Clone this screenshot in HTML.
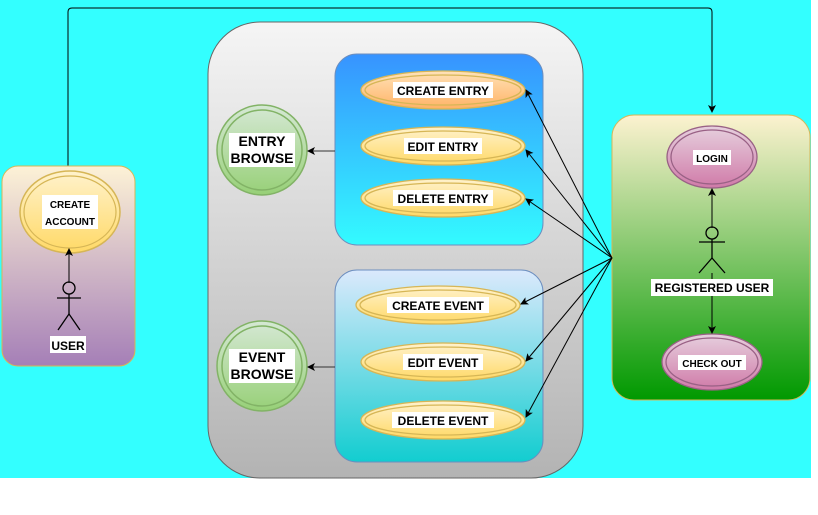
<!DOCTYPE html>
<html><head><meta charset="utf-8"><style>
body{margin:0;background:#fff;}
svg{display:block;}
text{font-family:"Liberation Sans",sans-serif;font-weight:bold;fill:#000;}
</style></head><body>
<svg width="818" height="515" viewBox="0 0 818 515" xmlns="http://www.w3.org/2000/svg">
<defs>
<linearGradient id="gU" x1="0" y1="0" x2="0" y2="1"><stop offset="0" stop-color="#fdf2d6"/><stop offset="1" stop-color="#a57fb7"/></linearGradient>
<linearGradient id="gG" x1="0" y1="0" x2="0" y2="1"><stop offset="0" stop-color="#f5f5f5"/><stop offset="1" stop-color="#b3b3b3"/></linearGradient>
<linearGradient id="gB" x1="0" y1="0" x2="0" y2="1"><stop offset="0" stop-color="#3793ff"/><stop offset="1" stop-color="#33fbff"/></linearGradient>
<linearGradient id="gC" x1="0" y1="0" x2="0" y2="1"><stop offset="0" stop-color="#dbe9fc"/><stop offset="1" stop-color="#12cdd0"/></linearGradient>
<linearGradient id="gR" x1="0" y1="0" x2="0" y2="1"><stop offset="0" stop-color="#fdf2d0"/><stop offset="1" stop-color="#009900"/></linearGradient>
<linearGradient id="gY" x1="0" y1="0" x2="0" y2="1"><stop offset="0" stop-color="#fff2cc"/><stop offset="1" stop-color="#ffd966"/></linearGradient>
<linearGradient id="gO" x1="0" y1="0" x2="0" y2="1"><stop offset="0" stop-color="#ffe2b8"/><stop offset="1" stop-color="#ffb366"/></linearGradient>
<linearGradient id="gE" x1="0" y1="0" x2="0" y2="1"><stop offset="0" stop-color="#d5e8d4"/><stop offset="1" stop-color="#97d077"/></linearGradient>
<linearGradient id="gP" x1="0" y1="0" x2="0" y2="1"><stop offset="0" stop-color="#e6d0de"/><stop offset="1" stop-color="#d07aa8"/></linearGradient>
<marker id="a" markerWidth="8" markerHeight="8" refX="7" refY="4" orient="auto" markerUnits="userSpaceOnUse"><path d="M0,0 L8,4 L0,8 L2,4 Z" fill="#000"/></marker>
</defs>
<rect x="0" y="0" width="811" height="478" fill="#33ffff"/>
<path d="M68,166 V12 Q68,8 72,8 H708 Q712,8 712,12 V112" fill="none" stroke="#000" stroke-width="1" marker-end="url(#a)"/>
<!-- user box -->
<rect x="2" y="166" width="133" height="200" rx="16" fill="url(#gU)" stroke="#d6b656"/>
<ellipse cx="70" cy="212" rx="50" ry="41" fill="url(#gY)" stroke="#d6b656" stroke-width="1.5"/>
<ellipse cx="70" cy="212" rx="46" ry="36" fill="none" stroke="#d6b656" stroke-width="1.2"/>
<rect x="42" y="195" width="56" height="34" fill="#fff"/>
<text x="70" y="208" font-size="10" text-anchor="middle">CREATE</text>
<text x="70" y="225" font-size="10" text-anchor="middle">ACCOUNT</text>
<line x1="69" y1="283" x2="69" y2="249" stroke="#000" marker-end="url(#a)"/>
<g stroke="#000" stroke-width="1.3" fill="none"><circle cx="69" cy="288" r="6"/><line x1="69" y1="294" x2="69" y2="314"/><line x1="57" y1="298" x2="81" y2="298"/><line x1="69" y1="314" x2="58" y2="330"/><line x1="69" y1="314" x2="80" y2="330"/></g>
<rect x="50" y="336" width="36" height="17" fill="#fff"/>
<text x="68" y="350" font-size="12" text-anchor="middle">USER</text>
<!-- gray box -->
<rect x="208" y="22" width="375" height="456" rx="52" fill="url(#gG)" stroke="#666"/>
<rect x="335" y="54" width="208" height="191" rx="22" fill="url(#gB)" stroke="#6c8ebf"/>
<rect x="335" y="270" width="208" height="192" rx="22" fill="url(#gC)" stroke="#6c8ebf"/>
<g stroke="#d6b656" stroke-width="1.3">
<ellipse cx="443" cy="90" rx="82" ry="19" fill="url(#gO)"/><ellipse cx="443" cy="90" rx="78" ry="15" fill="none"/>
<ellipse cx="443" cy="146" rx="82" ry="19" fill="url(#gY)"/><ellipse cx="443" cy="146" rx="78" ry="15" fill="none"/>
<ellipse cx="443" cy="198" rx="82" ry="19" fill="url(#gY)"/><ellipse cx="443" cy="198" rx="78" ry="15" fill="none"/>
<ellipse cx="438" cy="305" rx="82" ry="19" fill="url(#gY)"/><ellipse cx="438" cy="305" rx="78" ry="15" fill="none"/>
<ellipse cx="443" cy="362" rx="82" ry="19" fill="url(#gY)"/><ellipse cx="443" cy="362" rx="78" ry="15" fill="none"/>
<ellipse cx="443" cy="420" rx="82" ry="19" fill="url(#gY)"/><ellipse cx="443" cy="420" rx="78" ry="15" fill="none"/>
</g>
<g font-size="12" text-anchor="middle">
<rect x="393" y="82" width="100" height="16" fill="#fff"/><text x="443" y="95">CREATE ENTRY</text>
<rect x="404" y="138" width="78" height="16" fill="#fff"/><text x="443" y="151">EDIT ENTRY</text>
<rect x="393" y="190" width="100" height="16" fill="#fff"/><text x="443" y="203">DELETE ENTRY</text>
<rect x="387" y="297" width="102" height="16" fill="#fff"/><text x="438" y="310">CREATE EVENT</text>
<rect x="403" y="354" width="80" height="16" fill="#fff"/><text x="443" y="367">EDIT EVENT</text>
<rect x="392" y="412" width="102" height="16" fill="#fff"/><text x="443" y="425">DELETE EVENT</text>
</g>
<g stroke="#82b366" stroke-width="1.5">
<circle cx="262" cy="150" r="45" fill="url(#gE)"/><circle cx="262" cy="150" r="40" fill="none"/>
<circle cx="262" cy="366" r="45" fill="url(#gE)"/><circle cx="262" cy="366" r="40" fill="none"/>
</g>
<g font-size="14" text-anchor="middle">
<rect x="229" y="133" width="66" height="34" fill="#fff"/><text x="262" y="146">ENTRY</text><text x="262" y="163">BROWSE</text>
<rect x="229" y="349" width="66" height="34" fill="#fff"/><text x="262" y="362">EVENT</text><text x="262" y="379">BROWSE</text>
</g>
<line x1="335" y1="151" x2="308" y2="151" stroke="#333" marker-end="url(#a)"/>
<line x1="335" y1="367" x2="308" y2="367" stroke="#333" marker-end="url(#a)"/>
<!-- registered box -->
<rect x="612" y="115" width="198" height="285" rx="22" fill="url(#gR)" stroke="#d6b656"/>
<g stroke="#996185" stroke-width="1.3">
<ellipse cx="712" cy="157" rx="45" ry="31" fill="url(#gP)"/><ellipse cx="712" cy="157" rx="41" ry="27" fill="none"/>
<ellipse cx="712" cy="362" rx="50" ry="28" fill="url(#gP)"/><ellipse cx="712" cy="362" rx="46" ry="24" fill="none"/>
</g>
<rect x="693" y="150" width="38" height="15" fill="#fff"/><text x="712" y="162" font-size="10" text-anchor="middle">LOGIN</text>
<rect x="678" y="355" width="68" height="15" fill="#fff"/><text x="712" y="367" font-size="10" text-anchor="middle">CHECK OUT</text>
<line x1="712" y1="228" x2="712" y2="189" stroke="#000" marker-end="url(#a)"/>
<line x1="712" y1="273" x2="712" y2="333" stroke="#000" marker-end="url(#a)"/>
<g stroke="#000" stroke-width="1.3" fill="none"><circle cx="712" cy="233" r="6"/><line x1="712" y1="239" x2="712" y2="258"/><line x1="699" y1="242" x2="725" y2="242"/><line x1="712" y1="258" x2="699" y2="273"/><line x1="712" y1="258" x2="725" y2="273"/></g>
<rect x="651" y="279" width="122" height="17" fill="#fff"/>
<text x="712" y="292" font-size="12" text-anchor="middle">REGISTERED USER</text>
<g stroke="#000" stroke-width="1" marker-end="url(#a)">
<line x1="612" y1="258" x2="526" y2="90"/>
<line x1="612" y1="258" x2="526" y2="150"/>
<line x1="612" y1="258" x2="526" y2="199"/>
<line x1="612" y1="258" x2="521" y2="304"/>
<line x1="612" y1="258" x2="526" y2="361"/>
<line x1="612" y1="258" x2="526" y2="417"/>
</g>
</svg>
</body></html>
